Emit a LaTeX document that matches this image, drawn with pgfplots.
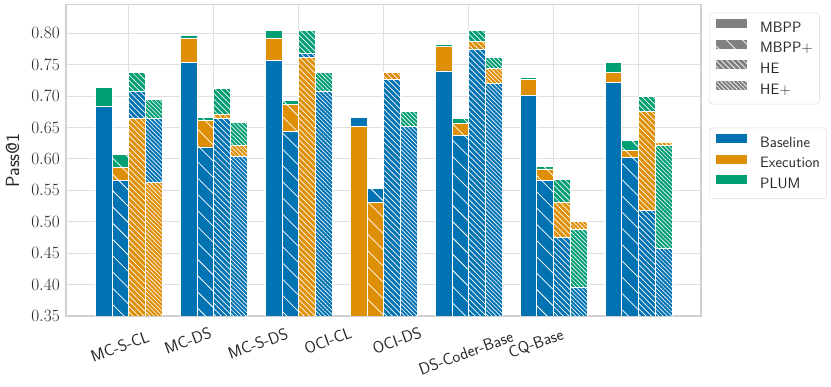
\documentclass[border=0pt]{standalone}
\usepackage{fontspec}
\usepackage{pgfplots}
\pgfplotsset{compat=1.18}
\usetikzlibrary{patterns.meta}
\definecolor{cbblue}{HTML}{0173B2}
\definecolor{cborange}{HTML}{DE8F05}
\definecolor{cbgreen}{HTML}{029E73}
\definecolor{txt}{HTML}{262626}
\newcommand\fs[1]{\fontsize{#1}{#1}\selectfont}
\pgfplotsset{
  bb/.style={ybar, bar width=16.73pt, draw=white, line width=0.9pt, forget plot},
  h0/.style={bar shift=-25.1pt},
  h1/.style={bar shift=-8.37pt, postaction={pattern={Lines[angle=-45,distance=11.5pt,line width=0.75pt]}, pattern color=white}},
  h2/.style={bar shift=8.37pt, postaction={pattern={Lines[angle=-45,distance=3.9pt,line width=0.7pt]}, pattern color=white}},
  h3/.style={bar shift=25.1pt, postaction={pattern={Lines[angle=-45,distance=2.95pt,line width=0.65pt]}, pattern color=white}},
  leg/.style={legend style={anchor=north west, draw=black!15, rounded corners=3pt, fill=white,
      font=\sffamily\fs{15}, text=txt, inner xsep=6.7pt, inner ysep=6pt, row sep=3.4pt, column sep=13.3pt,
      nodes={inner sep=0pt, text height=11pt, text depth=3.8pt}},
    legend cell align=left},
}
\newcommand\B[3]{\addplot[bb, fill=#1, #2] coordinates {#3};}
\newcommand\patch[1]{\fill[#1, draw=none, sharp corners] (0pt,0.55pt) rectangle (30.7pt,9.85pt);}
\begin{document}
\begin{tikzpicture}
\begin{axis}[
  at={(0pt,0pt)}, anchor=south west,
  width=635pt, height=311.3pt, scale only axis,
  xmin=-0.741, xmax=6.735, ymin=0.35, ymax=0.8455,
  xtick={0,1,2,3,4,5,6}, xticklabels={},
  ytick={0.35,0.4,0.45,0.5,0.55,0.6,0.65,0.7,0.75,0.8},
  yticklabel style={/pgf/number format/fixed, /pgf/number format/fixed zerofill,
     /pgf/number format/precision=2, font=\fs{18}, text=txt, inner sep=0pt, xshift=-6pt},
  grid=major, major grid style={draw=black!12, line width=1pt},
  axis line style={draw=black!18, line width=1.2pt},
  major tick length=0pt, tick style={draw=none},
  ylabel={Pass@1},
  ylabel style={at={(axis description cs:-0.0843,0.5)}, anchor=center, font=\sffamily\fs{19}, text=txt},
  leg, legend style={at={(axis description cs:1.0131,0.6049)}},
]
% layer 1 (full height, top colour)
\B{cbgreen}{h0}{(0,0.713)(1,0.796)(2,0.804)(3,0.667)(4,0.782)(5,0.729)(6,0.754)}
\B{cbgreen}{h1}{(0,0.607)(1,0.666)(2,0.693)(4,0.664)(5,0.588)(6,0.629)}
\B{cbblue}{h1}{(3,0.553)}
\B{cbgreen}{h2}{(0,0.738)(1,0.712)(2,0.805)(4,0.805)(5,0.567)(6,0.700)}
\B{cborange}{h2}{(3,0.738)}
\B{cbgreen}{h3}{(0,0.695)(1,0.658)(2,0.738)(3,0.676)(4,0.762)}
\B{cborange}{h3}{(5,0.500)(6,0.627)}
% layer 2
\B{cbblue}{h0}{(0,0.684)(3,0.666)}
\B{cborange}{h0}{(1,0.791)(2,0.791)(4,0.779)(5,0.727)(6,0.737)}
\B{cborange}{h1}{(0,0.586)(1,0.661)(2,0.686)(3,0.531)(4,0.657)(5,0.584)(6,0.614)}
\B{cbblue}{h2}{(0,0.708)(2,0.768)(3,0.727)}
\B{cborange}{h2}{(1,0.671)(4,0.787)(5,0.531)(6,0.676)}
\B{cbblue}{h3}{(0,0.665)(2,0.708)(3,0.652)}
\B{cborange}{h3}{(1,0.622)(4,0.744)}
\B{cbgreen}{h3}{(5,0.488)(6,0.622)}
% layer 3
\B{cbblue}{h0}{(1,0.754)(2,0.757)(4,0.740)(5,0.701)(6,0.722)}
\B{cborange}{h0}{(3,0.652)}
\B{cbblue}{h1}{(0,0.566)(1,0.619)(2,0.644)(4,0.637)(5,0.566)(6,0.602)}
\B{cborange}{h2}{(0,0.665)(2,0.762)}
\B{cbblue}{h2}{(1,0.665)(4,0.775)(5,0.475)(6,0.518)}
\B{cborange}{h3}{(0,0.563)}
\B{cbblue}{h3}{(1,0.604)(4,0.720)(5,0.396)(6,0.457)}
\addlegendimage{legend image code/.code={\patch{cbblue}}}\addlegendentry{Baseline}
\addlegendimage{legend image code/.code={\patch{cborange}}}\addlegendentry{Execution}
\addlegendimage{legend image code/.code={\patch{cbgreen}}}\addlegendentry{PLUM}
\end{axis}
\begin{axis}[
  at={(0pt,0pt)}, anchor=south west,
  width=635pt, height=311.3pt, scale only axis, hide axis,
  xmin=0, xmax=1, ymin=0, ymax=1,
  leg, legend style={at={(axis description cs:1.0131,0.9743)}},
]
\addlegendimage{legend image code/.code={\patch{black!50}}}
\addlegendentry{MBPP}
\addlegendimage{legend image code/.code={\patch{black!50}
   \patch{pattern={Lines[angle=-45,distance=11.5pt,line width=0.75pt]}, pattern color=white}}}
\addlegendentry{MBPP+}
\addlegendimage{legend image code/.code={\patch{black!50}
   \patch{pattern={Lines[angle=-45,distance=3.9pt,line width=0.7pt]}, pattern color=white}}}
\addlegendentry{HE}
\addlegendimage{legend image code/.code={\patch{black!50}
   \patch{pattern={Lines[angle=-45,distance=2.95pt,line width=0.65pt]}, pattern color=white}}}
\addlegendentry{HE+}
\end{axis}
\begin{scope}[font=\sffamily\fs{16.5}, text=txt]
\node[rotate=20] at (54pt,-30.7pt) {MC-S-CL};
\node[rotate=20] at (122pt,-24.5pt) {MC-DS};
\node[rotate=20] at (192pt,-27.5pt) {MC-S-DS};
\node[rotate=20] at (262pt,-24.5pt) {OCI-CL};
\node[rotate=20] at (331pt,-24.5pt) {OCI-DS};
\node[rotate=20] at (400pt,-37pt) {DS-Coder-Base};
\node[rotate=20] at (470pt,-28pt) {CQ-Base};
\end{scope}
\pgfresetboundingbox
\path[use as bounding box] (-66pt,-71pt) rectangle (765pt,316pt);
\end{tikzpicture}
\end{document}
